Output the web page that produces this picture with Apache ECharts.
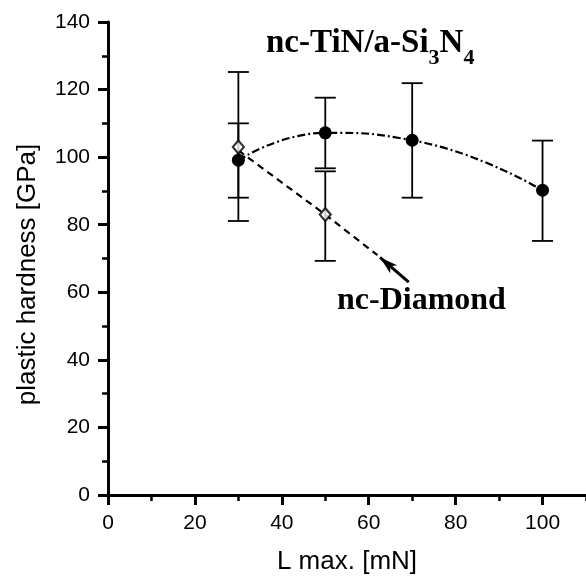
<!DOCTYPE html>
<html>
<head>
<meta charset="utf-8">
<script src="https://cdn.jsdelivr.net/npm/echarts@6/dist/echarts.min.js"></script>
<style>
  html, body { margin: 0; padding: 0; background: #fff; }
  #chart { width: 586px; height: 580px; }
</style>
</head>
<body>
<div id="chart"></div>
<script>
// values
var loadTiN  = [30, 50, 70, 100];
var hardTiN  = [99.1, 107.2, 105.0, 90.2];
var lowTiN   = [88.0, 96.7, 88.0, 75.2];
var highTiN  = [110.0, 117.6, 121.9, 104.9];

var loadDia  = [30, 50];
var hardDia  = [103.0, 83.0];
var lowDia   = [81.1, 69.3];
var highDia  = [125.2, 95.8];

// dashed guide for nc-Diamond and the arrow pointing at it
var guideDiaX = [30, 50, 62];
var guideDiaY = [102, 83, 71];
var arrowTail = [69.2, 63.0];
var arrowTip  = [62.6, 70.3];

function zip(a, b) {
    return a.map(function (v, i) { return [v, b[i]]; });
}
function zip3(a, b, c) {
    return a.map(function (v, i) { return [v, b[i], c[i]]; });
}

function renderErr(params, api) {
    var x = api.value(0);
    var lo = api.coord([x, api.value(1)]);
    var hi = api.coord([x, api.value(2)]);
    var hw = 10.5;
    var st = { stroke: '#000', lineWidth: 1.8 };
    return {
        type: 'group',
        children: [
            { type: 'line', shape: { x1: lo[0], y1: lo[1], x2: hi[0], y2: hi[1] }, style: st },
            { type: 'line', shape: { x1: lo[0] - hw, y1: lo[1], x2: lo[0] + hw, y2: lo[1] }, style: st },
            { type: 'line', shape: { x1: hi[0] - hw, y1: hi[1], x2: hi[0] + hw, y2: hi[1] }, style: st }
        ]
    };
}

var sans = '"Liberation Sans", Arial, Helvetica, sans-serif';
var serif = '"Liberation Serif", "Times New Roman", serif';

var chart = echarts.init(document.getElementById('chart'));
chart.setOption({
    animation: false,
    backgroundColor: '#fff',
    grid: { left: 108, top: 22, right: -6, bottom: 78, containLabel: false },
    xAxis: [
        {
            type: 'value', min: 0, max: 110, interval: 20,
            name: 'L max. [mN]', nameLocation: 'middle', nameGap: 54,
            nameTextStyle: { color: '#000', fontSize: 26, fontFamily: sans },
            axisLine: { show: true, lineStyle: { color: '#000', width: 3 } },
            axisTick: { show: true, length: 10, lineStyle: { color: '#000', width: 3 } },
            axisLabel: { color: '#000', fontSize: 21, fontFamily: sans, margin: 18, showMaxLabel: false },
            splitLine: { show: false }
        },
        {
            // minor ticks every 10
            type: 'value', min: 0, max: 110, interval: 10, position: 'bottom',
            axisLine: { show: false },
            axisTick: { show: true, length: 6, lineStyle: { color: '#000', width: 2.5 } },
            axisLabel: { show: false },
            splitLine: { show: false }
        }
    ],
    yAxis: {
        type: 'value', min: 0, max: 140, interval: 20,
        name: 'plastic hardness [GPa]', nameLocation: 'middle', nameGap: 67,
        nameTextStyle: { color: '#000', fontSize: 26, fontFamily: sans, padding: [0, 32, 0, 0] },
        axisLine: { show: true, lineStyle: { color: '#000', width: 3 } },
        axisTick: { show: true, length: 10, lineStyle: { color: '#000', width: 3 } },
        minorTick: { show: true, splitNumber: 2, length: 6, lineStyle: { color: '#000', width: 2.5 } },
        axisLabel: { color: '#000', fontSize: 21, fontFamily: sans, margin: 18 },
        splitLine: { show: false },
        minorSplitLine: { show: false }
    },
    series: [
        {
            type: 'custom', name: 'errTiN', renderItem: renderErr,
            encode: { x: 0, y: [1, 2] }, data: zip3(loadTiN, lowTiN, highTiN), z: 2
        },
        {
            type: 'custom', name: 'errDia', renderItem: renderErr,
            encode: { x: 0, y: [1, 2] }, data: zip3(loadDia, lowDia, highDia), z: 2
        },
        {
            type: 'line', name: 'guideDia', data: zip(guideDiaX, guideDiaY),
            symbol: 'none', z: 3,
            lineStyle: { color: '#000', width: 2.2, type: [7, 5] },
            markLine: {
                silent: true,
                symbol: ['none', 'arrow'],
                symbolSize: [8, 18],
                label: { show: false },
                lineStyle: { color: '#000', width: 3, type: 'solid' },
                data: [[{ coord: arrowTail }, { coord: arrowTip }]]
            }
        },
        {
            type: 'line', name: 'nc-TiN/a-Si3N4', data: zip(loadTiN, hardTiN),
            smooth: 0.5, z: 4,
            symbol: 'circle', symbolSize: 13,
            itemStyle: { color: '#000' },
            lineStyle: { color: '#000', width: 2.2, type: [8, 3, 2, 3] }
        },
        {
            type: 'scatter', name: 'nc-Diamond', data: zip(loadDia, hardDia),
            symbol: 'diamond', symbolSize: [11, 13], z: 5,
            itemStyle: { color: '#fff', borderColor: '#000', borderWidth: 2.2 }
        }
    ],
    graphic: [
        {
            type: 'text', left: 266, top: 18,
            style: {
                text: '{m|nc-TiN/a-Si}{s|3}{m|N}{s|4}',
                fill: '#000',
                rich: {
                    m: { fontSize: 33, fontWeight: 'bold', fontFamily: serif, lineHeight: 33 },
                    s: { fontSize: 22, fontWeight: 'bold', fontFamily: serif, lineHeight: 22, padding: [29, 0, 0, 0] }
                }
            }
        },
        {
            type: 'text', left: 337, top: 285,
            style: {
                text: 'nc-Diamond', fill: '#000',
                fontSize: 32, fontWeight: 'bold', fontFamily: serif
            }
        }
    ]
});
</script>
</body>
</html>
